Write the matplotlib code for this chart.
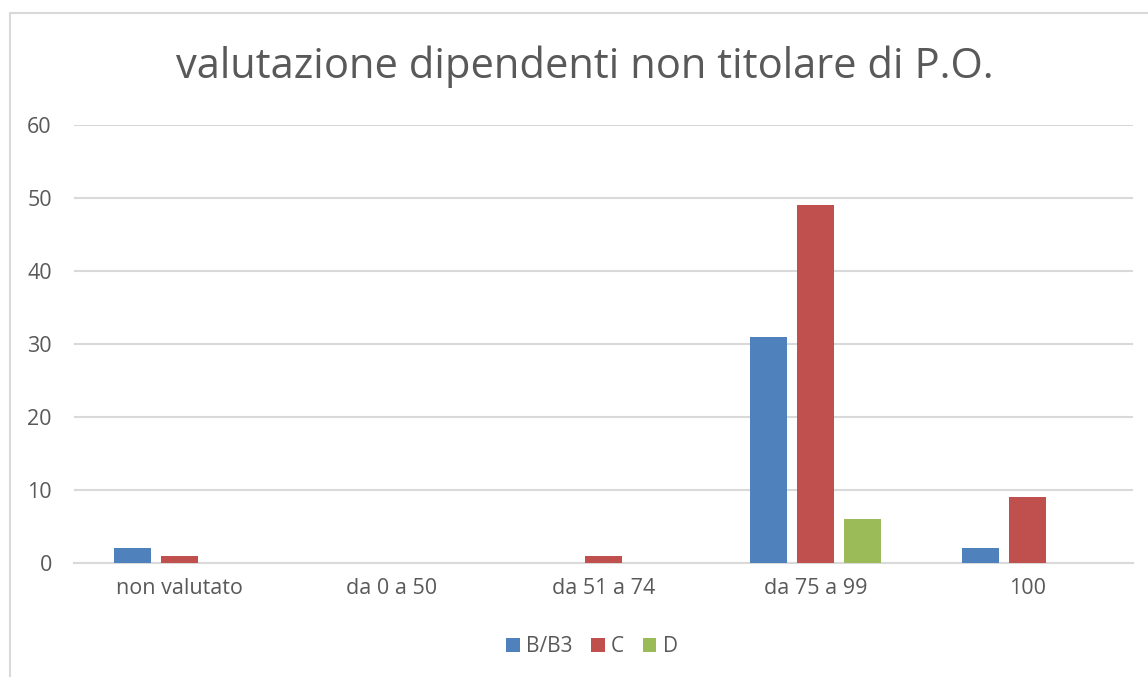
import numpy as np
import matplotlib.pyplot as plt
from matplotlib.patches import Rectangle

categories = ["non valutato", "da 0 a 50", "da 51 a 74", "da 75 a 99", "100"]
series_names = ["B/B3", "C", "D"]
values_b = [2, 0, 0, 31, 2]
values_c = [1, 0, 1, 49, 9]
values_d = [0, 0, 0, 6, 0]
colors = ["#4f81bd", "#c0504d", "#9bbb59"]
y_ticks = [0, 10, 20, 30, 40, 50, 60]

plt.rcParams["font.family"] = ["Open Sans", "DejaVu Sans"]
text_color = "#595959"
grid_color = "#d9d9d9"

fig = plt.figure(figsize=(11.48, 6.77), dpi=100)
ax = fig.add_axes([74 / 1148, 1 - 563 / 677, (1133 - 74) / 1148, (563 - 125) / 677])

# chart area border (cropped on the right and bottom)
fig.patches.append(Rectangle((10 / 1148, -0.05), 1.1, 1 - 13 / 677 + 0.05,
                             transform=fig.transFigure, fill=False,
                             edgecolor=grid_color, linewidth=1.5))

x = np.arange(len(categories))
width = 0.175
step = 0.222
for i, (name, vals) in enumerate(zip(series_names, [values_b, values_c, values_d])):
    ax.bar(x + (i - 1) * step, vals, width=width, color=colors[i], label=name, zorder=3)

ax.set_xlim(-0.5, len(categories) - 0.5)
ax.set_ylim(0, 60)
ax.set_yticks(y_ticks)
ax.set_xticks(x)
ax.set_xticklabels(categories)
ax.grid(axis="y", color=grid_color, linewidth=1.5, zorder=0)
for s in ["top", "right", "left"]:
    ax.spines[s].set_visible(False)
ax.spines["bottom"].set_color(grid_color)
ax.spines["bottom"].set_linewidth(1.5)
ax.tick_params(axis="both", length=0, labelsize=15.5, colors=text_color)
ax.tick_params(axis="y", pad=16)
ax.tick_params(axis="x", pad=11)

fig.suptitle("valutazione dipendenti non titolare di P.O.", x=585 / 1148, y=1 - 67 / 677,
             va="center", fontsize=30, color=text_color)

ax.legend(loc="center", bbox_to_anchor=(592 / 1148, 1 - 647 / 677),
          bbox_transform=fig.transFigure, ncol=3, frameon=False,
          fontsize=15, labelcolor=text_color, handlelength=0.65, handleheight=0.65,
          handletextpad=0.3, columnspacing=0.9)

fig.savefig("out.png", dpi=100)
